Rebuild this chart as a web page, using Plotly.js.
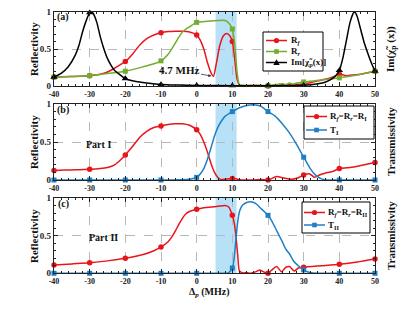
<!DOCTYPE html>
<html><head><meta charset="utf-8">
<script src="https://cdn.plot.ly/plotly-3.0.1.min.js"></script>
<style>html,body{margin:0;padding:0;background:#fff}#g{width:415px;height:311px}</style>
</head><body><div id="g"></div>
<script>
// ---- data ----
const xTickVals = [-40,-30,-20,-10,0,10,20,30,40,50];
const xTickText = ['-40','-30','-20','-10','0','10','20','30','40','50'];
const yTickVals = [0,0.5,1];
const yTickText = ['0','0.5','1'];

// panel (a)
const aRfX = [-40,-37,-34,-30,-27,-25,-23,-21,-20,-18,-16,-14,-12,-10,-8,-6,-4,-2,0,1,2,3,4,4.7,5.5,6.5,7.5,8.5,9.3,10,10.7,11.3,12,14,16,18,20,22,24,26,28,30,32,34,36,38,40,42,44,46,48,50];
const aRfY = [0.12,0.125,0.13,0.14,0.16,0.19,0.24,0.3,0.33,0.43,0.55,0.64,0.69,0.72,0.735,0.74,0.74,0.73,0.69,0.62,0.5,0.32,0.18,0.13,0.3,0.55,0.68,0.71,0.68,0.6,0.35,0.1,0.01,0.005,0.01,0.005,0.0,0.01,0.02,0.015,0.02,0.03,0.045,0.07,0.09,0.12,0.16,0.14,0.15,0.16,0.18,0.2];
const aRrX = [-40,-35,-30,-25,-20,-15,-12,-10,-8,-6,-5,-4,-3,-2,0,3,6,8,9,10,10.7,11.3,12,14,16,18,20,22,24,25,26,27,28,30,35,40,45,50];
const aRrY = [0.12,0.13,0.14,0.17,0.2,0.26,0.3,0.34,0.43,0.58,0.66,0.73,0.77,0.8,0.86,0.875,0.885,0.885,0.85,0.77,0.55,0.2,0.02,0.01,0.005,0.01,0.005,0.02,0.03,0.02,0.04,0.025,0.04,0.055,0.08,0.11,0.15,0.2];
const aImX = [-40,-38,-36,-34,-33,-32,-31,-30,-29.5,-29,-28,-27,-26,-25,-24,-23,-22,-20,-17,-14,-10,-5,0,10,20,30,34,36,38,39,40,41,42,43,44,44.3,45,46,47,48,49,50];
const aImY = [0.12,0.17,0.26,0.42,0.55,0.73,0.88,0.99,1.0,0.98,0.86,0.66,0.5,0.37,0.28,0.21,0.17,0.1,0.06,0.04,0.02,0.012,0.008,0.004,0.004,0.01,0.03,0.05,0.1,0.14,0.21,0.38,0.62,0.86,0.99,1.0,0.94,0.76,0.58,0.44,0.31,0.2];

// panel (b)
const bRX = [-40,-37,-34,-30,-27,-25,-23,-21,-20,-18,-16,-14,-12,-10,-8,-6,-4,-2,0,1,2,3,4,5,6,7,8,9,10,11,12,14,16,18,20,22.4,24,26.6,28.5,30,31.7,33.1,34.6,36,38,40,42,44,46,48,50];
const bRY = [0.125,0.13,0.135,0.14,0.15,0.165,0.2,0.28,0.33,0.44,0.56,0.64,0.69,0.71,0.73,0.74,0.74,0.72,0.66,0.6,0.5,0.37,0.22,0.1,0.03,0.005,0.01,0.015,0.02,0.015,0.005,0.0,0.0,0.005,0.0,0.045,0.03,0.01,0.03,0.065,0.08,0.035,0.07,0.09,0.11,0.15,0.16,0.17,0.19,0.21,0.23];
const bTX = [-40,-30,-20,-10,-5,-3,-1,0,1,2,3,4,5,6,7,8,10,12,14,16,18,20,22,24,26,28,30,31,32,33,34,35,36,38,40,45,50];
const bTY = [0,0,0,0,0.002,0.005,0.02,0.035,0.08,0.15,0.27,0.42,0.58,0.7,0.78,0.84,0.9,0.95,0.98,0.99,0.97,0.9,0.84,0.74,0.62,0.47,0.3,0.22,0.14,0.08,0.04,0.015,0.003,0,0,0,0];

// panel (c)
const cRX = [-40,-35,-30,-25,-20,-15,-12,-10,-8,-7,-6,-5,-4,-3,-2,0,2,4,6,8,9,10,10.5,11,11.5,12,13,14,15,16,17,17.7,18.7,20,21.2,22.4,23.8,25,26,27.4,28.5,30,35,40,45,50];
const cRY = [0.11,0.125,0.14,0.165,0.2,0.25,0.3,0.35,0.42,0.48,0.56,0.65,0.73,0.79,0.82,0.85,0.87,0.88,0.89,0.9,0.88,0.77,0.68,0.5,0.25,0.03,0.005,0.01,0.0,0.01,0.03,0.045,0.02,0.0,0.05,0.09,0.02,0.08,0.09,0.03,0.07,0.08,0.1,0.12,0.15,0.19];
const cTX = [-40,-30,-20,-10,0,5,8,9,9.5,10,10.5,11,11.5,12,12.5,13,14,15,16,17,17.8,18.5,20,21,22.5,24,25,26,27.2,28.5,30,31,32.6,34,40,50];
const cTY = [0,0,0,0,0,0,0,0.01,0.03,0.07,0.2,0.45,0.68,0.82,0.88,0.91,0.94,0.95,0.94,0.91,0.87,0.84,0.77,0.7,0.56,0.42,0.32,0.26,0.16,0.1,0.045,0.02,0.003,0,0,0];

const band = [5.3, 11.2];

// legend labels
const legA = ['R<sub><i>f</i></sub>', 'R<sub><i>r</i></sub>', 'Im[χ̃<sub>p</sub>(x)]'];
const legB = ['R<sub><i>f</i></sub>=R<sub><i>r</i></sub>=R<sub>I</sub>', 'T<sub>I</sub>'];
const legC = ['R<sub><i>f</i></sub>=R<sub><i>r</i></sub>=R<sub>II</sub>', 'T<sub>II</sub>'];

// ---- styling ----
const RED = '#e8161b', GREEN = '#72ad2f', BLUE = '#1f7fc4', BLACK = '#000';
const FONT = 'Liberation Serif, Times New Roman, serif';
const W = 415, H = 311;
const px = x => x / W, py = y => 1 - y / H;

function marks(xs, ys){
  const mx = [], my = [];
  xs.forEach((x,i)=>{ if (x % 10 === 0){ mx.push(x); my.push(ys[i]); } });
  return {mx, my};
}
const traces = [];
function series(xs, ys, color, symbol, size, xa, ya){
  traces.push({x: xs, y: ys, mode:'lines', line:{color, width:1.5, shape:'spline', smoothing:0.6},
    xaxis: xa, yaxis: ya, showlegend:false, hoverinfo:'skip'});
  const m = marks(xs, ys);
  traces.push({x: m.mx, y: m.my, mode:'markers', marker:{color, symbol, size},
    xaxis: xa, yaxis: ya, showlegend:false, cliponaxis:false});
}
series(aRfX, aRfY, RED, 'circle', 5.5, 'x', 'y');
series(aRrX, aRrY, GREEN, 'square', 5, 'x', 'y');
series(aImX, aImY, BLACK, 'triangle-up', 6.5, 'x', 'y');
series(bRX, bRY, RED, 'circle', 5.5, 'x2', 'y2');
series(bTX, bTY, BLUE, 'square', 5, 'x2', 'y2');
series(cRX, cRY, RED, 'circle', 5.5, 'x3', 'y3');
series(cTX, cTY, BLUE, 'square', 5, 'x3', 'y3');

const xd = [54/W, 375/W];
const doms = [[12,86],[104,180],[198,273.3]].map(p => [1 - p[1]/H, 1 - p[0]/H]);

function xaxis(anchor){
  return {domain: xd, anchor, range:[-40,50], tickvals: xTickVals, ticktext: xTickText,
    ticks:'inside', ticklen:4, tickwidth:1, tickcolor:'#222', showline:true, linecolor:'#222', linewidth:1.2, mirror:'ticks',
    showgrid:true, gridcolor:'#b8b8b8', griddash:'dash', gridwidth:1, zeroline:false,
    minor:{dtick:2, ticks:'inside', ticklen:2, tickcolor:'#222'},
    tickfont:{family:FONT, size:8, color:'#222', weight:'bold'}};
}
function yaxis(anchor, d){
  return {domain: d, anchor, range:[0,1], tickvals: yTickVals, ticktext: yTickText,
    ticks:'inside', ticklen:4, tickwidth:1, tickcolor:'#222', showline:true, linecolor:'#222', linewidth:1.2, mirror:'ticks',
    showgrid:true, gridcolor:'#b8b8b8', griddash:'dash', gridwidth:1, zeroline:false,
    minor:{dtick:0.1, ticks:'inside', ticklen:2, tickcolor:'#222'},
    tickfont:{family:FONT, size:9, color:'#222', weight:'bold'}};
}

const shapes = ['y','y2','y3'].map((ya,i)=>({type:'rect', xref: i===0?'x':'x'+(i+1), yref: ya+' domain',
  x0: band[0], x1: band[1], y0:0, y1:1, fillcolor:'#b6e1f6', line:{width:0}, layer:'below'}));

const ann = [];
function txt(text, x, y, size, opts){
  ann.push(Object.assign({text, x: px(x), y: py(y), xref:'paper', yref:'paper', showarrow:false,
    xanchor:'center', yanchor:'middle',
    font:{family:FONT, size, color:'#111', weight:'bold'}}, opts||{}));
}

// hand-built legend boxes (paper coordinates)
function legendBox(box, items){
  shapes.push({type:'rect', xref:'paper', yref:'paper', x0:px(box[0]), x1:px(box[1]), y0:py(box[3]), y1:py(box[2]),
    fillcolor:'#fff', line:{color:'#000', width:1}, layer:'above'});
  items.forEach(it => {
    const [l0, l1, tx, cy, color, sym, label] = it;
    shapes.push({type:'line', xref:'paper', yref:'paper', x0:px(l0), x1:px(l1), y0:py(cy), y1:py(cy),
      line:{color, width:1.5}, layer:'above'});
    const cx = (l0 + l1) / 2;
    if (sym === 'circle') {
      shapes.push({type:'circle', xref:'paper', yref:'paper', x0:px(cx-2.6), x1:px(cx+2.6), y0:py(cy+2.6), y1:py(cy-2.6),
        fillcolor:color, line:{color, width:0}, layer:'above'});
    } else if (sym === 'square') {
      shapes.push({type:'rect', xref:'paper', yref:'paper', x0:px(cx-2.3), x1:px(cx+2.3), y0:py(cy+2.3), y1:py(cy-2.3),
        fillcolor:color, line:{color, width:0}, layer:'above'});
    } else {
      const p = `M${px(cx-3.2)},${py(cy+2.4)} L${px(cx+3.2)},${py(cy+2.4)} L${px(cx)},${py(cy-3.2)} Z`;
      shapes.push({type:'path', xref:'paper', yref:'paper', path:p, fillcolor:color, line:{color, width:0}, layer:'above'});
    }
    txt(label, tx, cy, 9, {xanchor:'left'});
  });
}
legendBox([263, 323, 32, 71], [
  [266, 287, 289, 40.5, RED, 'circle', legA[0]],
  [266, 287, 289, 51.5, GREEN, 'square', legA[1]],
  [266, 287, 289, 62.5, BLACK, 'triangle', legA[2]]]);
legendBox([304, 374, 106, 139], [
  [306, 327, 328, 116.5, RED, 'circle', legB[0]],
  [306, 327, 328, 130, BLUE, 'square', legB[1]]]);
legendBox([302, 370, 202, 233], [
  [304, 325, 326, 212.5, RED, 'circle', legC[0]],
  [304, 325, 326, 225, BLUE, 'square', legC[1]]]);

txt('(a)', 63, 17, 10);
txt('(b)', 63, 110, 10);
txt('(c)', 63, 204, 10);
[49, 142, 236].forEach(cy => txt('Reflectivity', 34, cy, 11, {textangle:-90}));
txt('Im(χ̃<sub>p</sub> (x))', 391, 49, 11, {textangle:-90});
txt('Transmissivity', 391, 142, 11, {textangle:-90});
txt('Transmissivity', 391, 236, 11, {textangle:-90});
txt('Part I', 98, 144, 10);
txt('Part II', 103, 237, 10);
txt('Δ<sub><i>p</i></sub> (MHz)', 210, 292, 10);
ann.push({text:'4.7 MHz', xref:'x', yref:'y', x:4.7, y:0.13, ax:-34, ay:-6, showarrow:true,
  arrowhead:2, arrowsize:0.8, arrowwidth:0.8, arrowcolor:'#333', standoff:2,
  font:{family:FONT, size:11, color:'#111', weight:'bold'}});

const layout = {width: W, height: H, margin:{l:0,r:0,t:0,b:0}, paper_bgcolor:'#fff', plot_bgcolor:'#fff',
  showlegend:false,
  xaxis: xaxis('y'), yaxis: yaxis('x', doms[0]),
  xaxis2: xaxis('y2'), yaxis2: yaxis('x2', doms[1]),
  xaxis3: xaxis('y3'), yaxis3: yaxis('x3', doms[2]),
  shapes, annotations: ann};

Plotly.newPlot('g', traces, layout, {displayModeBar:false});
</script></body></html>
